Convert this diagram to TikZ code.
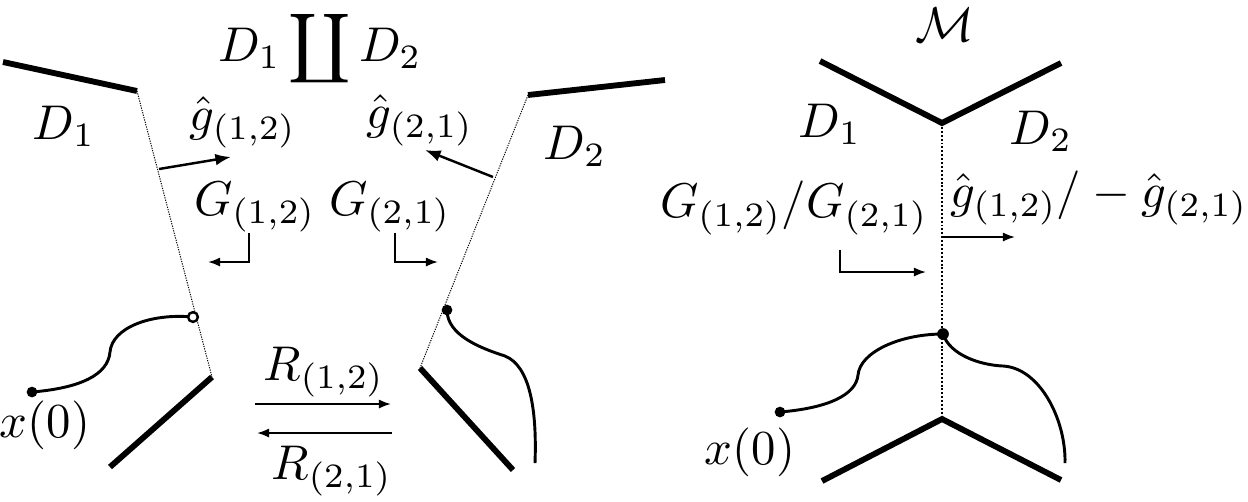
\documentclass[tikz,border=0pt]{standalone}
\usetikzlibrary{arrows.meta}

\begin{document}
\begin{tikzpicture}[x=0.0072cm,y=-0.0072cm,
  every node/.style={inner sep=1pt},
  wall/.style={line width=1.2pt},
  seam/.style={line width=0.2pt,dash pattern=on 0.25pt off 0.25pt},
  glue/.style={line width=0.4pt,dash pattern=on 0.4pt off 0.4pt},
  traj/.style={line width=0.6pt},
  arr/.style={line width=0.4pt,-{Latex[length=2.5pt,width=1.9pt]}},
  nvec/.style={line width=0.5pt,-{Latex[length=3.2pt,width=2.4pt]}}]
  \useasboundingbox (0,0) rectangle (1248,501);

  % the two pieces, side by side
  \coordinate (a1) at (3,62);
  \coordinate (a2) at (137,91);
  \coordinate (a3) at (212,377);
  \coordinate (a4) at (110,467);
  \coordinate (b1) at (665,80);
  \coordinate (b2) at (528,95);
  \coordinate (b3) at (420,368);
  \coordinate (b4) at (513,470);

  \draw[wall] (a1) -- (a2);
  \draw[seam] (a2) -- (a3);
  \draw[wall] (a3) -- (a4);
  \draw[wall] (b1) -- (b2);
  \draw[seam] (b2) -- (b3);
  \draw[wall] (b3) -- (b4);

  \node[anchor=base,inner sep=0pt] (sum) at (320,61) {$\displaystyle D_1\coprod D_2$};
  \node (lD1) at (64,126) {$D_1$};
  \node (lD2) at (575,146) {$D_2$};
  \node (lg12) at (243,122) {$\hat g_{(1,2)}$};
  \node (lg21) at (420,120) {$\hat g_{(2,1)}$};
  \node (lG12) at (255,207) {$G_{(1,2)}$};
  \node (lG21) at (390,207) {$G_{(2,1)}$};
  \node (lR12) at (324,372) {$R_{(1,2)}$};
  \node (lR21) at (332,471) {$R_{(2,1)}$};
  \node (lx0) at (45,425) {$x(0)$};

  \coordinate (n1) at (159,169);
  \coordinate (n1e) at (231,157);
  \coordinate (n2) at (493,177);
  \coordinate (n2e) at (425,150);
  \draw[nvec] (n1) -- (n1e);
  \draw[nvec] (n2) -- (n2e);

  \coordinate (k1) at (249,233);
  \coordinate (k1e) at (208,262);
  \coordinate (k2) at (395,233);
  \coordinate (k2e) at (438,262);
  \draw[arr] (k1) |- (k1e);
  \draw[arr] (k2) |- (k2e);

  \coordinate (r1) at (255,404);
  \coordinate (r1e) at (391,404);
  \coordinate (r2) at (392,433);
  \coordinate (r2e) at (257,433);
  \draw[arr] (r1) -- (r1e);
  \draw[arr] (r2) -- (r2e);

  \coordinate (start) at (32,392);
  \coordinate (exit) at (193,317);
  \coordinate (entry) at (447,310);
  \coordinate (stop) at (535,463);
  \draw[traj] (start) .. controls (80,388) and (108,375) .. (110,352)
    .. controls (112,328) and (150,313) .. (exit);
  \draw[traj] (entry) .. controls (447,335) and (480,348) .. (505,356)
    .. controls (530,366) and (537,410) .. (stop);
  \fill (start) circle [radius=1.1pt];
  \draw[line width=0.5pt,fill=white] (exit) circle [radius=1pt];
  \fill (entry) circle [radius=1.1pt];

  % the glued manifold
  \coordinate (c1) at (820,61);
  \coordinate (c2) at (942,123);
  \coordinate (c3) at (1061,63);
  \coordinate (e1) at (822,481);
  \coordinate (e2) at (942,419);
  \coordinate (e3) at (1061,480);
  \draw[wall] (c1) -- (c2) -- (c3);
  \draw[wall] (e1) -- (e2) -- (e3);
  \draw[glue] (c2) -- (e2);

  \node[inner sep=0pt] (M) at (945,25) {$\mathcal M$};
  \node (mD1) at (830,124) {$D_1$};
  \node[inner sep=0pt] (mD2) at (1041,131) {$D_2$};
  \node[inner sep=0pt] (mg) at (1099,198) {$\hat g_{(1,2)}/-\hat g_{(2,1)}$};
  \node (mG) at (794,208) {$G_{(1,2)}/G_{(2,1)}$};
  \node (mx0) at (750,452) {$x(0)$};

  \coordinate (m1) at (942,237);
  \coordinate (m1e) at (1015,237);
  \draw[arr] (m1) -- (m1e);
  \coordinate (m2) at (840,250);
  \coordinate (m2e) at (926,272);
  \draw[arr] (m2) |- (m2e);

  \coordinate (mstart) at (780,412);
  \coordinate (cross) at (943,334);
  \coordinate (mstop) at (1065,463);
  \draw[traj] (mstart) .. controls (828,408) and (856,395) .. (858,375)
    .. controls (860,352) and (900,334) .. (cross);
  \draw[traj] (cross) .. controls (950,355) and (980,365) .. (1003,366)
    .. controls (1040,368) and (1066,420) .. (mstop);
  \fill (mstart) circle [radius=1.1pt];
  \fill (cross) circle [radius=1.2pt];
\end{tikzpicture}
\end{document}
